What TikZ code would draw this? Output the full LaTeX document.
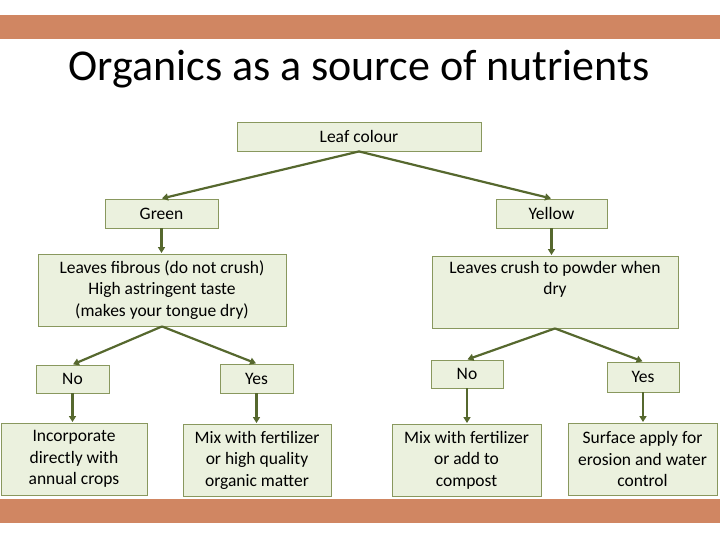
\documentclass[tikz,border=0pt]{standalone}
\usepackage{fontspec}
\setmainfont{Carlito}
\usepackage{xcolor}
\usepackage{tikz}
\usetikzlibrary{arrows.meta, positioning}
\definecolor{BarOrange}{RGB}{208, 134, 98}
\definecolor{BoxFill}{RGB}{235, 241, 222}
\definecolor{BoxLine}{RGB}{137, 152, 94}
\definecolor{ArrowOlive}{RGB}{86, 104, 46}

\tikzset{
  choicebox/.style={rectangle, fill=BoxFill, draw=BoxLine, line width=0.9pt,
    align=center, inner sep=0pt, text=black,
    font=\fontsize{17.5}{21.5}\selectfont},
  flowarrow/.style={draw=ArrowOlive, line width=2.2pt,
    -{Triangle[length=6pt, width=7pt]}, shorten >=0.5pt}
}

\begin{document}
\begin{tikzpicture}[x=1pt, y=-1pt]
  \useasboundingbox (0,0) rectangle (720,540);
  % bars
  \fill[BarOrange] (0,15) rectangle (720,39);
  \fill[BarOrange] (0,499) rectangle (720,523);
  \node[anchor=base, font=\fontsize{44}{48}\selectfont] (title) at (359,81)
    {Organics as a source of nutrients};

  % first level
  \node[choicebox, minimum width=244pt, minimum height=29pt] (leaf) at (359,136.5) {Leaf colour};
  \node[choicebox, minimum width=113pt, minimum height=29pt] (green) at (161.5,213.5) {Green};
  \node[choicebox, minimum width=111pt, minimum height=29pt] (yellow) at (551.5,213.5) {Yellow};

  % questions
  \node[choicebox, minimum width=248pt, minimum height=72pt] (fibrous) at (162,290)
    {Leaves fibrous (do not crush)\\High astringent taste\\(makes your tongue dry)};
  \node[choicebox, minimum width=246pt, minimum height=72pt] (crush) at (555,292)
    {Leaves crush to powder when\\dry\\\strut};

  % answers
  \node[choicebox, minimum width=73pt, minimum height=28pt] (nofib) at (72.5,379) {No};
  \node[choicebox, minimum width=73pt, minimum height=29pt] (yesfib) at (256.5,378.5) {Yes};
  \node[choicebox, minimum width=72pt, minimum height=28pt] (nocrush) at (467,374) {No};
  \node[choicebox, minimum width=72pt, minimum height=30pt] (yescrush) at (643,377) {Yes};

  % uses
  \node[choicebox, minimum width=146pt, minimum height=72pt] (incorp) at (74,459)
    {Incorporate\\directly with\\annual crops};
  \node[choicebox, minimum width=148pt, minimum height=72pt] (mixhigh) at (257,460)
    {Mix with fertilizer\\or high quality\\organic matter};
  \node[choicebox, minimum width=149pt, minimum height=72pt] (mixcomp) at (466.5,460)
    {Mix with fertilizer\\or add to\\compost};
  \node[choicebox, minimum width=149pt, minimum height=72pt] (surface) at (642.5,459)
    {Surface apply for\\erosion and water\\control};

  % connectors
  \draw[flowarrow] (leaf.south) -- (green.north);
  \draw[flowarrow] (leaf.south) -- (yellow.north);
  \draw[flowarrow] (green.south) -- (green.south |- fibrous.north);
  \draw[flowarrow] (yellow.south) -- (yellow.south |- crush.north);
  \draw[flowarrow] (fibrous.south) -- (nofib.north);
  \draw[flowarrow] (fibrous.south) -- (yesfib.north);
  \draw[flowarrow] (crush.south) -- (nocrush.north);
  \draw[flowarrow] (crush.south) -- (yescrush.north);
  \draw[flowarrow] (nofib.south) -- (nofib.south |- incorp.north);
  \draw[flowarrow] (yesfib.south) -- (yesfib.south |- mixhigh.north);
  \draw[flowarrow] (nocrush.south) -- (nocrush.south |- mixcomp.north);
  \draw[flowarrow] (yescrush.south) -- (yescrush.south |- surface.north);
\end{tikzpicture}
\end{document}
